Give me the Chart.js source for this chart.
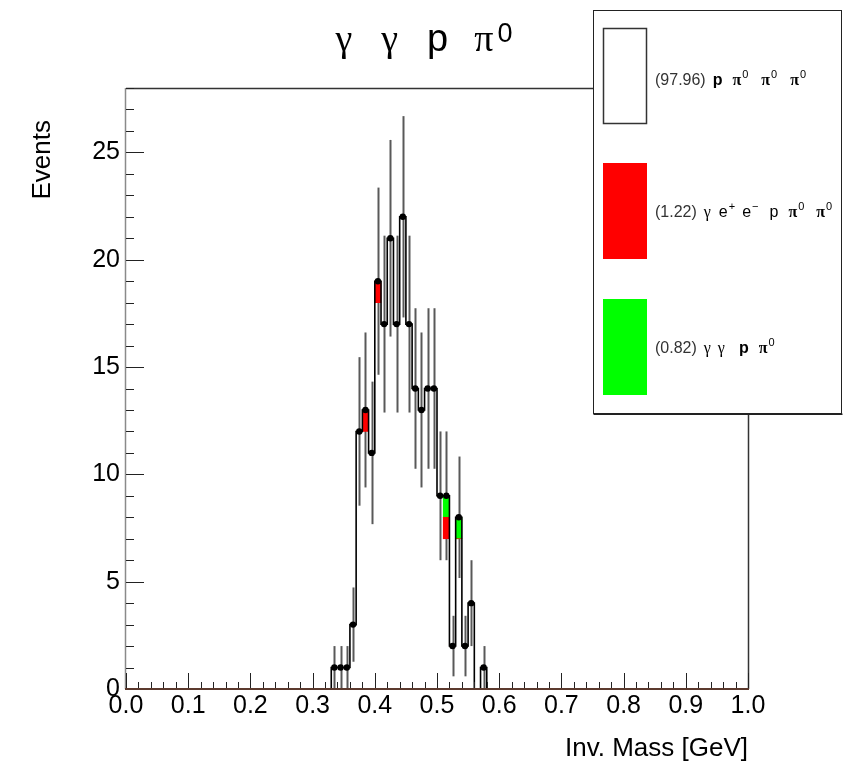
<!DOCTYPE html>
<html>
<head>
<meta charset="utf-8">
<script src="https://cdn.jsdelivr.net/npm/chart.js@4.4.1/dist/chart.umd.min.js"></script>
<style>
  html, body { margin: 0; padding: 0; background: #fff; }
  #wrap { width: 858px; height: 770px; }
</style>
</head>
<body>
<div id="wrap"><canvas id="massChart" width="858" height="770"></canvas></div>
<script>
// Invariant mass, 0.01 GeV bins (lower edges); only filled bins are listed
const binLow = [0.33, 0.34, 0.35, 0.36, 0.37, 0.38, 0.39, 0.40, 0.41, 0.42, 0.43, 0.44,
                0.45, 0.46, 0.47, 0.48, 0.49, 0.50, 0.51, 0.52, 0.53, 0.54, 0.55, 0.56, 0.57];
const binWidth = 0.01;

// events per bin for each channel (stacked in this order)
const countsPPi0 = [1, 1, 1, 3, 12, 12, 11, 18, 17, 21, 17, 22,
                    17, 14, 13, 14, 14, 9, 7, 2, 7, 2, 4, 0, 1];
const countsGammaEE = [0, 0, 0, 0, 0, 1, 0, 1, 0, 0, 0, 0,
                       0, 0, 0, 0, 0, 0, 1, 0, 0, 0, 0, 0, 0];
const countsGammaGamma = [0, 0, 0, 0, 0, 0, 0, 0, 0, 0, 0, 0,
                          0, 0, 0, 0, 0, 0, 1, 0, 1, 0, 0, 0, 0];
// statistical error on the stacked total
const statErrors = [1, 1, 1, 1.73, 3.46, 3.61, 3.32, 4.36, 4.12, 4.58, 4.12, 4.69,
                    4.12, 3.74, 3.61, 3.74, 3.74, 3, 3, 1.41, 2.83, 1.41, 2, 0, 1];

const yTickStep = 5;
const xTickStep = 0.1;

const totals = binLow.map((_, i) => countsPPi0[i] + countsGammaEE[i] + countsGammaGamma[i]);
const centers = binLow.map(x => +(x + binWidth / 2).toFixed(3));

const asXY = arr => arr.map((y, i) => ({ x: centers[i], y: y }));

// step outline of the total, held from each lower edge to the next
const outline = [{ x: binLow[0], y: 0 }]
  .concat(binLow.map((x, i) => ({ x: x, y: totals[i] })))
  .concat([{ x: +(binLow[binLow.length - 1] + binWidth).toFixed(2), y: 0 }]);

const markers = centers.map((x, i) => ({ x: x, y: totals[i] })).filter(p => p.y > 0);

const SANS = '"Liberation Sans", Arial, sans-serif';
const SERIF = '"Liberation Serif", "Times New Roman", serif';

function drawRich(ctx, parts, x, y, align) {
  let w = 0;
  parts.forEach(p => {
    ctx.font = p.font;
    p.w = ctx.measureText(p.t).width;
    w += p.w + (p.gap || 0);
  });
  let cx = align === 'center' ? x - w / 2 : x;
  ctx.textAlign = 'left';
  ctx.textBaseline = 'alphabetic';
  parts.forEach(p => {
    ctx.font = p.font;
    ctx.fillStyle = p.color || '#000';
    ctx.fillText(p.t, cx, y + (p.dy || 0));
    cx += p.w + (p.gap || 0);
  });
}

// error bars go under the fills and the outline
const errorBars = {
  id: 'errorBars',
  beforeDatasetsDraw(chart) {
    const { ctx, scales: { x, y }, chartArea } = chart;
    ctx.save();
    ctx.beginPath();
    ctx.rect(chartArea.left, chartArea.top, chartArea.width, chartArea.height);
    ctx.clip();
    ctx.strokeStyle = 'rgba(60,60,60,0.85)';
    ctx.lineWidth = 2;
    totals.forEach((n, i) => {
      if (n <= 0) return;
      const px = Math.round(x.getPixelForValue(centers[i])) + 0.5;
      ctx.beginPath();
      ctx.moveTo(px, y.getPixelForValue(Math.max(0, n - statErrors[i])));
      ctx.lineTo(px, y.getPixelForValue(n + statErrors[i]));
      ctx.stroke();
    });
    ctx.restore();
  }
};

// frame, inner tick marks, titles and the channel legend
const frame = {
  id: 'frame',
  afterDraw(chart) {
    const { ctx, scales: { x, y }, chartArea: a } = chart;
    ctx.save();

    // frame top and right
    ctx.strokeStyle = '#333';
    ctx.lineWidth = 1.5;
    ctx.beginPath();
    ctx.moveTo(a.left, a.top + 0.5);
    ctx.lineTo(a.right + 0.5, a.top + 0.5);
    ctx.lineTo(a.right + 0.5, a.bottom);
    ctx.stroke();

    // y axis
    ctx.strokeStyle = '#8a8a8a';
    ctx.lineWidth = 1.5;
    ctx.beginPath();
    ctx.moveTo(a.left - 0.5, a.top);
    ctx.lineTo(a.left - 0.5, a.bottom);
    ctx.stroke();

    // tick marks pointing into the frame
    ctx.strokeStyle = '#222';
    ctx.lineWidth = 1;
    ctx.beginPath();
    for (let v = 0; v <= y.max; v += 1) {
      const py = Math.round(y.getPixelForValue(v)) + 0.5;
      const len = v % yTickStep === 0 ? 18 : 8;
      ctx.moveTo(a.left, py);
      ctx.lineTo(a.left + len, py);
    }
    for (let i = 0; i <= 50; i++) {
      const px = Math.round(x.getPixelForValue(i * 0.02)) + 0.5;
      const len = i % 5 === 0 ? 16 : 7;
      ctx.moveTo(px, a.bottom);
      ctx.lineTo(px, a.bottom - len);
    }
    ctx.stroke();

    // x axis baseline
    ctx.strokeStyle = '#5c3a2e';
    ctx.lineWidth = 2;
    ctx.beginPath();
    ctx.moveTo(a.left - 1, a.bottom);
    ctx.lineTo(a.right + 1, a.bottom);
    ctx.stroke();

    // axis titles
    ctx.fillStyle = '#000';
    ctx.font = '26px ' + SANS;
    ctx.textAlign = 'right';
    ctx.textBaseline = 'alphabetic';
    ctx.fillText('Inv. Mass [GeV]', a.right, 756);
    ctx.save();
    ctx.translate(50, 120);
    ctx.rotate(-Math.PI / 2);
    ctx.fillText('Events', 0, 0);
    ctx.restore();

    // histogram title
    const T = '38px ' + SERIF, TS = '38px ' + SANS;
    drawRich(ctx, [
      { t: 'γ', font: T, gap: 29 },
      { t: 'γ', font: T, gap: 29 },
      { t: 'p', font: TS, gap: 26 },
      { t: 'π', font: T, gap: 4 },
      { t: '0', font: '27px ' + SANS, dy: -9 }
    ], 424, 51, 'center');

    // legend box
    const lx = 593.5, ly = 10.5, lw = 248, lh = 403;
    ctx.fillStyle = '#fff';
    ctx.fillRect(lx, ly, lw, lh);
    ctx.strokeStyle = '#222';
    ctx.lineWidth = 1;
    ctx.strokeRect(lx, ly, lw, lh);
    ctx.fillStyle = '#222';
    ctx.fillRect(lx, ly + lh, lw + 1, 1.5);

    const boxes = [
      { y: 28, fill: '#ffffff', border: true },
      { y: 163, fill: '#ff0000' },
      { y: 299, fill: '#00ff00' }
    ];
    boxes.forEach(b => {
      ctx.fillStyle = b.fill;
      ctx.fillRect(603, b.y, 44, 96);
      if (b.border) {
        ctx.strokeStyle = '#333';
        ctx.lineWidth = 1.5;
        ctx.strokeRect(603.5, b.y + 0.5, 43, 95);
      }
    });

    const LN = '16px ' + SANS, LB = 'bold 16px ' + SANS;
    const LP = 'bold 16px ' + SERIF, LG = '16px ' + SERIF, SUP = '11px ' + SANS;
    const grey = '#333';
    drawRich(ctx, [
      { t: '(97.96)', font: LN, color: grey, gap: 7 },
      { t: 'p', font: LB, gap: 10 },
      { t: 'π', font: LP, gap: 1 }, { t: '0', font: SUP, dy: -7, gap: 13 },
      { t: 'π', font: LP, gap: 1 }, { t: '0', font: SUP, dy: -7, gap: 13 },
      { t: 'π', font: LP, gap: 1 }, { t: '0', font: SUP, dy: -7 }
    ], 655, 85, 'left');
    drawRich(ctx, [
      { t: '(1.22)', font: LN, color: grey, gap: 7 },
      { t: 'γ', font: LG, gap: 8 },
      { t: 'e', font: LN, gap: 1 }, { t: '+', font: SUP, dy: -7, gap: 7 },
      { t: 'e', font: LN, gap: 1 }, { t: '−', font: SUP, dy: -7, gap: 11 },
      { t: 'p', font: LN, gap: 10 },
      { t: 'π', font: LP, gap: 1 }, { t: '0', font: SUP, dy: -7, gap: 12 },
      { t: 'π', font: LP, gap: 1 }, { t: '0', font: SUP, dy: -7 }
    ], 655, 217, 'left');
    drawRich(ctx, [
      { t: '(0.82)', font: LN, color: grey, gap: 7 },
      { t: 'γ', font: LG, gap: 7 },
      { t: 'γ', font: LG, gap: 14 },
      { t: 'p', font: LB, gap: 10 },
      { t: 'π', font: LP, gap: 1 }, { t: '0', font: SUP, dy: -7 }
    ], 655, 353, 'left');

    ctx.restore();
  }
};

new Chart(document.getElementById('massChart'), {
  type: 'bar',
  data: {
    datasets: [
      {
        label: 'p pi0 pi0 pi0',
        data: asXY(countsPPi0),
        backgroundColor: 'rgba(255,255,255,0)',
        borderWidth: 0,
        stack: 'channels',
        barPercentage: 1,
        categoryPercentage: 1,
        order: 3
      },
      {
        label: 'gamma e+ e- p pi0 pi0',
        data: asXY(countsGammaEE),
        backgroundColor: '#ff0000',
        borderWidth: 0,
        stack: 'channels',
        barPercentage: 1,
        categoryPercentage: 1,
        order: 3
      },
      {
        label: 'gamma gamma p pi0',
        data: asXY(countsGammaGamma),
        backgroundColor: '#00ff00',
        borderWidth: 0,
        stack: 'channels',
        barPercentage: 1,
        categoryPercentage: 1,
        order: 3
      },
      {
        type: 'line',
        label: 'total',
        data: outline,
        stepped: 'before',
        borderColor: '#000',
        borderWidth: 1.6,
        pointRadius: 0,
        fill: false,
        stack: 'outline',
        clip: false,
        order: 2
      },
      {
        type: 'scatter',
        label: 'markers',
        data: markers,
        pointRadius: 3.2,
        pointBackgroundColor: '#000',
        pointBorderWidth: 0,
        showLine: false,
        stack: 'markers',
        order: 1
      }
    ]
  },
  options: {
    responsive: false,
    animation: false,
    events: [],
    layout: { padding: { top: 88, right: 110, left: 0, bottom: 0 } },
    plugins: {
      legend: { display: false },
      title: { display: false },
      tooltip: { enabled: false }
    },
    scales: {
      x: {
        type: 'linear',
        offset: false,
        min: 0,
        max: 1,
        grid: { display: false, drawTicks: false, offset: false },
        border: { display: false },
        ticks: {
          stepSize: xTickStep,
          autoSkip: false,
          maxRotation: 0,
          padding: 2,
          color: '#000',
          font: { family: SANS, size: 25 },
          callback: v => v.toFixed(1)
        },
        afterFit: s => { s.height = 81; }
      },
      y: {
        min: 0,
        max: 28,
        stacked: true,
        grid: { display: false, drawTicks: false },
        border: { display: false },
        afterBuildTicks: s => { s.ticks = s.ticks.filter(t => t.value % yTickStep === 0); },
        ticks: {
          stepSize: yTickStep,
          padding: 6,
          color: '#000',
          font: { family: SANS, size: 25 }
        },
        afterFit: s => { s.width = 126; }
      }
    }
  },
  plugins: [errorBars, frame]
});
</script>
</body>
</html>
